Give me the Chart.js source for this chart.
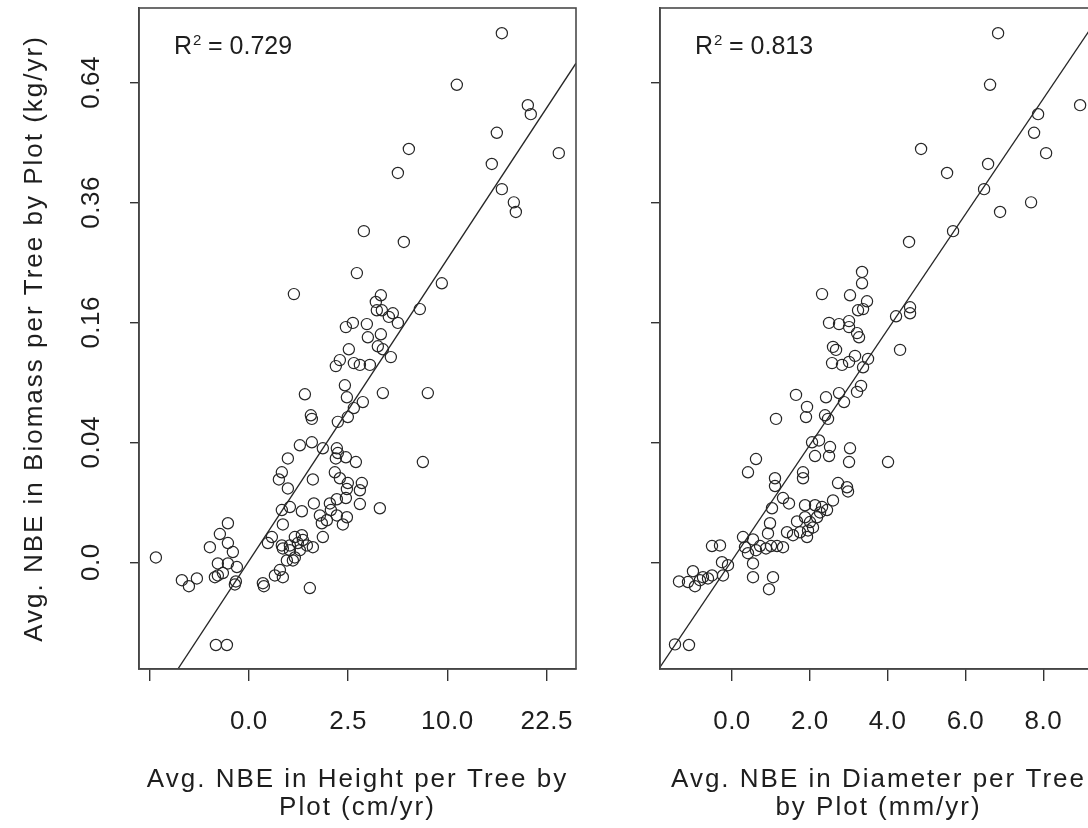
<!DOCTYPE html>
<html>
<head>
<meta charset="utf-8">
<script src="https://cdn.jsdelivr.net/npm/chart.js@4.4.1/dist/chart.umd.min.js"></script>
<style>
  html, body { margin: 0; padding: 0; background: #fff; overflow: hidden; width: 1088px; height: 828px; }
  .panel { position: absolute; top: 0; height: 828px; }
  #heightPanel { left: 0; width: 600px; }
  #diameterPanel { left: 600px; width: 520px; }
</style>
</head>
<body>
<div class="panel" id="heightPanel"><canvas id="heightChart"></canvas></div>
<div class="panel" id="diameterPanel"><canvas id="diameterChart"></canvas></div>
<script>
// Both axes of the height panel and the biomass axis are on a signed square-root scale,
// so the values below are already in plotted (sqrt) units.
const biomassTicks = [0, 0.2, 0.4, 0.6, 0.8];
const biomassTickLabels = ["0.0", "0.04", "0.16", "0.36", "0.64"];
const heightTicks = [-1.581, 0, 1.581, 3.162, 4.743];
const heightTickLabels = ["", "0.0", "2.5", "10.0", "22.5"];
const diameterTicks = [0, 2, 4, 6, 8];
const diameterTickLabels = ["0.0", "2.0", "4.0", "6.0", "8.0"];

const heightX = [4.029, 3.312, 4.443, 4.490, 3.949, 4.936, 2.548, 3.869, 2.373, 4.029, 4.220, 4.252, 1.831, 2.468, 1.720, 3.073, 0.717, 2.102, 2.022, 2.038, 2.118, 2.293, 2.229, 2.373, 2.723, 1.545, 1.656, 1.879, 1.895, 2.102, 2.054, 2.134, 2.261, 1.592, 1.449, 1.385, 1.672, 1.768, 1.927, 1.529, 1.561, 1.815, 1.672, 2.134, 2.850, 0.892, 0.987, 1.003, 1.417, 1.576, 0.812, 1.003, 1.178, 1.401, 1.417, 1.545, 1.704, 1.385, 0.621, 2.771, 0.525, 0.478, 0.621, 1.019, 1.369, 1.449, 1.576, 1.561, 1.799, 1.768, 0.525, 0.653, 0.844, 1.035, 1.290, 1.401, 1.306, 1.545, 1.768, 2.086, 0.541, 1.131, 1.242, 1.162, 1.401, 1.561, 1.497, 0.732, 0.844, 0.860, 0.780, 0.924, 1.178, 0.366, 0.303, 0.525, 0.653, 1.019, 0.653, 0.812, 0.732, 0.605, 0.541, 0.701, 0.414, 0.541, 0.494, 0.223, 0.239, 0.971, -1.481, -1.067, -0.955, -0.828, -0.621, -0.462, -0.334, -0.334, -0.255, -0.334, -0.191, -0.494, -0.541, -0.494, -0.414, -0.207, -0.223, -0.525, -0.350];
const heightBiomass = [0.882, 0.796, 0.762, 0.747, 0.716, 0.682, 0.689, 0.664, 0.649, 0.622, 0.600, 0.584, 0.552, 0.534, 0.482, 0.465, 0.447, 0.445, 0.434, 0.420, 0.420, 0.415, 0.409, 0.399, 0.422, 0.392, 0.399, 0.397, 0.375, 0.380, 0.360, 0.355, 0.342, 0.355, 0.337, 0.327, 0.332, 0.329, 0.329, 0.295, 0.275, 0.267, 0.257, 0.282, 0.282, 0.280, 0.245, 0.239, 0.234, 0.242, 0.195, 0.200, 0.190, 0.190, 0.182, 0.175, 0.167, 0.173, 0.173, 0.167, 0.150, 0.138, 0.123, 0.138, 0.150, 0.140, 0.132, 0.122, 0.132, 0.120, 0.087, 0.092, 0.085, 0.098, 0.098, 0.105, 0.087, 0.107, 0.097, 0.090, 0.063, 0.078, 0.070, 0.065, 0.078, 0.075, 0.063, 0.042, 0.045, 0.037, 0.032, 0.028, 0.042, 0.042, 0.032, 0.028, 0.028, 0.025, 0.020, 0.020, 0.008, 0.003, 0.023, 0.003, -0.022, -0.025, -0.013, -0.035, -0.040, -0.043, 0.008, -0.030, -0.040, -0.027, 0.025, 0.047, 0.065, 0.032, 0.017, -0.002, -0.008, -0.002, -0.025, -0.022, -0.018, -0.032, -0.037, -0.138, -0.138];

const diameterX = [6.838, 6.632, 8.946, 7.866, 7.763, 8.072, 4.859, 6.581, 5.527, 6.478, 7.686, 6.889, 5.681, 4.550, 3.342, 3.342, 2.314, 3.033, 3.470, 3.239, 3.368, 4.216, 4.576, 4.576, 2.494, 2.751, 3.008, 3.008, 3.213, 3.265, 2.596, 2.674, 2.571, 2.828, 3.008, 3.162, 3.496, 3.368, 4.319, 3.316, 3.213, 2.751, 2.879, 2.416, 1.645, 1.928, 1.902, 2.391, 2.468, 1.131, 2.057, 2.236, 2.519, 2.494, 2.134, 3.033, 3.008, 4.010, 0.617, 0.411, 1.105, 1.105, 1.825, 1.825, 2.725, 2.956, 2.982, 1.311, 1.465, 1.028, 1.877, 2.134, 2.314, 2.596, 2.442, 1.671, 1.877, 2.005, 2.185, 2.262, 1.954, 2.082, 0.977, 0.925, 1.748, 1.928, 1.414, 1.568, 0.283, 0.540, 0.334, 0.411, 0.617, 0.720, 0.874, 1.003, 1.157, 1.311, -0.514, -0.308, 0.540, -0.103, -0.257, -0.231, -1.362, -1.131, -1.003, -0.951, -0.823, -0.746, -0.514, -0.617, 0.540, 1.054, 0.951, -1.465, -1.105];
const diameterBiomass = [0.882, 0.796, 0.762, 0.747, 0.716, 0.682, 0.689, 0.664, 0.649, 0.622, 0.600, 0.584, 0.552, 0.534, 0.484, 0.465, 0.447, 0.445, 0.435, 0.420, 0.422, 0.410, 0.425, 0.415, 0.399, 0.397, 0.402, 0.392, 0.382, 0.375, 0.359, 0.354, 0.332, 0.329, 0.334, 0.344, 0.339, 0.325, 0.354, 0.294, 0.284, 0.282, 0.267, 0.275, 0.279, 0.259, 0.242, 0.245, 0.239, 0.239, 0.200, 0.203, 0.192, 0.177, 0.177, 0.190, 0.167, 0.167, 0.172, 0.150, 0.140, 0.127, 0.150, 0.140, 0.132, 0.125, 0.118, 0.107, 0.098, 0.090, 0.095, 0.095, 0.092, 0.103, 0.087, 0.068, 0.075, 0.067, 0.075, 0.083, 0.053, 0.058, 0.065, 0.048, 0.050, 0.042, 0.050, 0.045, 0.042, 0.038, 0.025, 0.015, 0.020, 0.027, 0.023, 0.027, 0.027, 0.025, 0.027, 0.028, -0.002, -0.005, 0, -0.022, -0.032, -0.033, -0.015, -0.040, -0.030, -0.025, -0.022, -0.027, -0.025, -0.025, -0.045, -0.137, -0.138];

// least-squares lines: [intercept, slope]
const heightFit = [0.002, 0.1593];
const diameterFit = [0.003, 0.0962];
const heightR2 = "0.729";
const diameterR2 = "0.813";

const FONT = "'Liberation Sans', Arial, sans-serif";
const NARROW = "'Liberation Sans Narrow', 'Arial Narrow', 'Liberation Sans', sans-serif";
const INK = "#1e1e1e";

const frameBox = {
  id: "frameBox",
  afterDatasetsDraw(chart) {
    const { ctx, chartArea: a } = chart;
    ctx.save();
    ctx.strokeStyle = "#4a4a4a";
    ctx.lineWidth = 1.6;
    ctx.strokeRect(a.left, a.top, a.width, a.height);
    ctx.restore();
  },
};

// axis titles are drawn with the grid layer, tick labels after the datasets (ticks.z = 1),
// so the wide tracking only lands on the titles
const titleTracking = {
  id: "titleTracking",
  beforeDraw(chart) { chart.ctx.letterSpacing = "2px"; },
  beforeDatasetsDraw(chart) { chart.ctx.letterSpacing = "0.5px"; },
  afterDraw(chart) { chart.ctx.letterSpacing = "0px"; },
};

const r2Label = {
  id: "r2Label",
  afterDraw(chart, args, opts) {
    const { ctx, chartArea: a } = chart;
    ctx.save();
    ctx.letterSpacing = "0px";
    ctx.fillStyle = INK;
    ctx.font = `25px ${FONT}`;
    ctx.textBaseline = "alphabetic";
    const x = a.left + 35;
    const y = a.top + 46;
    ctx.fillText("R", x, y);
    const rw = ctx.measureText("R").width;
    ctx.font = `15px ${FONT}`;
    ctx.fillText("2", x + rw + 1, y - 9);
    ctx.font = `25px ${FONT}`;
    ctx.fillText(` = ${opts.value}`, x + rw + 9, y);
    ctx.restore();
  },
};

function fitLine(fit, xMin, xMax) {
  return [xMin, xMax].map((x) => ({ x, y: fit[0] + fit[1] * x }));
}

function makePanel(canvasId, cfg) {
  const points = cfg.xs.map((x, i) => ({ x, y: cfg.ys[i] }));
  return new Chart(document.getElementById(canvasId), {
    type: "scatter",
    data: {
      datasets: [
        {
          data: points,
          pointStyle: "circle",
          pointRadius: 5.6,
          pointBorderWidth: 1.2,
          borderColor: "#262626",
          backgroundColor: "rgba(0,0,0,0)",
        },
        {
          type: "line",
          data: fitLine(cfg.fit, cfg.xMin, cfg.xMax),
          borderColor: "#262626",
          borderWidth: 1.3,
          pointRadius: 0,
          fill: false,
        },
      ],
    },
    options: {
      responsive: true,
      maintainAspectRatio: false,
      animation: false,
      events: [],
      layout: { padding: { top: 8, right: cfg.padRight, bottom: 0, left: 0 } },
      plugins: { legend: { display: false }, tooltip: { enabled: false }, r2Label: { value: cfg.r2 } },
      scales: {
        x: {
          type: "linear",
          min: cfg.xMin,
          max: cfg.xMax,
          afterBuildTicks: (scale) => { scale.ticks = cfg.xTicks.map((value) => ({ value })); },
          afterFit: (scale) => {
            scale.height = 159;
            scale.paddingLeft = 0;
            scale.paddingRight = 0;
          },
          grid: { display: true, drawOnChartArea: false, drawTicks: true, tickLength: 12, color: "#333", lineWidth: 1.4 },
          border: { display: true, color: "#333", width: 1.6 },
          ticks: {
            z: 1,
            padding: 25,
            color: INK,
            font: { family: NARROW, size: 26 },
            maxRotation: 0,
            autoSkip: false,
            callback: (value, index) => cfg.xTickLabels[index],
          },
          title: {
            display: true,
            text: cfg.xTitle,
            color: INK,
            font: { family: NARROW, size: 26, lineHeight: 1.077 },
            padding: { top: 0, bottom: 6 },
          },
        },
        y: {
          type: "linear",
          min: -0.178,
          max: 0.924,
          afterBuildTicks: (scale) => { scale.ticks = biomassTicks.map((value) => ({ value })); },
          afterFit: (scale) => {
            scale.width = cfg.yWidth;
            scale.paddingTop = 0;
            scale.paddingBottom = 0;
          },
          grid: { display: true, drawOnChartArea: false, drawTicks: true, tickLength: 9, color: "#333", lineWidth: 1.4 },
          border: { display: true, color: "#333", width: 1.6 },
          ticks: {
            z: 1,
            display: cfg.yLabels,
            padding: 13,
            minRotation: 90,
            maxRotation: 90,
            crossAlign: "center",
            color: INK,
            font: { family: NARROW, size: 26 },
            callback: (value, index) => biomassTickLabels[index],
          },
          title: {
            display: cfg.yLabels,
            text: "Avg. NBE in Biomass per Tree by Plot (kg/yr)",
            color: INK,
            font: { family: NARROW, size: 26, lineHeight: 1.077 },
            padding: { top: 21, bottom: 0 },
          },
        },
      },
    },
    plugins: [titleTracking, frameBox, r2Label],
  });
}

makePanel("heightChart", {
  xs: heightX,
  ys: heightBiomass,
  fit: heightFit,
  r2: heightR2,
  xMin: -1.75,
  xMax: 5.21,
  xTicks: heightTicks,
  xTickLabels: heightTickLabels,
  xTitle: ["Avg. NBE in Height per Tree by", "Plot (cm/yr)"],
  padRight: 24,
  yWidth: 139,
  yLabels: true,
});

makePanel("diameterChart", {
  xs: diameterX,
  ys: diameterBiomass,
  fit: diameterFit,
  r2: diameterR2,
  xMin: -1.85,
  xMax: 9.38,
  xTicks: diameterTicks,
  xTickLabels: diameterTickLabels,
  xTitle: ["Avg. NBE in Diameter per Tree", "by Plot (mm/yr)"],
  padRight: 23,
  yWidth: 60,
  yLabels: false,
});
</script>
</body>
</html>
